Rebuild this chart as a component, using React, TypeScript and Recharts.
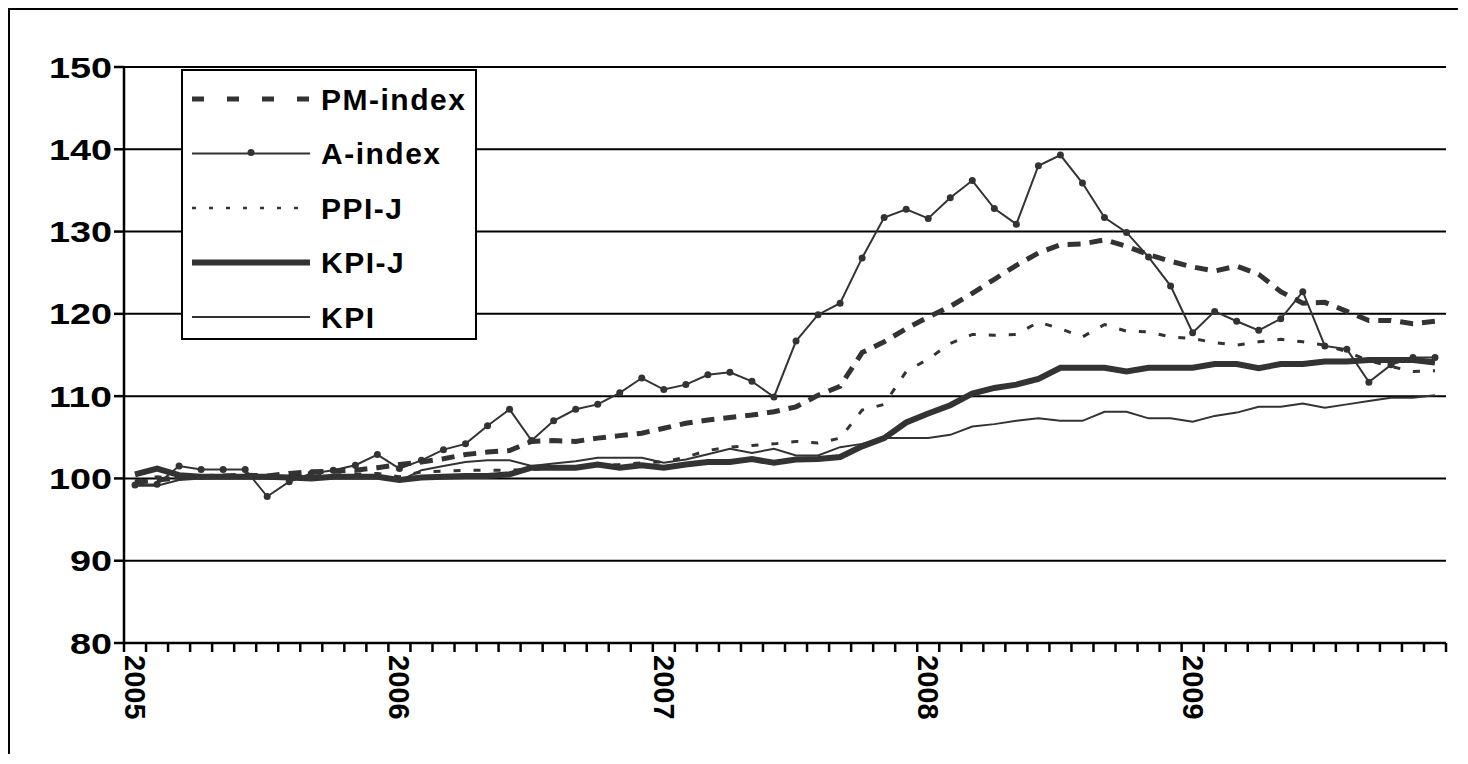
import React from 'react';
import { LineChart, Line, XAxis, YAxis, CartesianGrid } from 'recharts';

const years = ['2005', '2006', '2007', '2008', '2009'];
const months = years.flatMap((y) => Array.from({ length: 12 }, (_, m) => `${y}-${m + 1}`));
const yTicks = [80, 90, 100, 110, 120, 130, 140, 150];

const pmIndex = [
  99.5, 99.8, 100.1, 100.2, 100.3, 100.4, 100.3, 100.6, 100.8, 100.9, 101.0, 101.3,
  101.7, 102.0, 102.4, 102.9, 103.2, 103.4, 104.5, 104.6, 104.5, 104.9, 105.2, 105.5,
  106.1, 106.7, 107.1, 107.4, 107.7, 108.1, 108.7, 110.1, 111.2, 115.3, 116.6, 118.2,
  119.6, 120.9, 122.5, 124.2, 125.9, 127.4, 128.4, 128.5, 129.0, 128.2, 127.2, 126.4,
  125.7, 125.2, 125.8, 124.8, 122.7, 121.3, 121.4, 120.3, 119.2, 119.2, 118.8, 119.1,
];
const aIndex = [
  99.2, 99.3, 101.5, 101.1, 101.1, 101.1, 97.8, 99.6, 100.6, 101.0, 101.6, 102.9,
  101.2, 102.2, 103.5, 104.2, 106.4, 108.4, 104.6, 107.0, 108.4, 109.0, 110.4, 112.2,
  110.8, 111.4, 112.6, 112.9, 111.8, 109.9, 116.7, 119.9, 121.3, 126.8, 131.7, 132.7,
  131.6, 134.1, 136.2, 132.8, 130.9, 138.0, 139.3, 135.9, 131.7, 129.9, 126.9, 123.4,
  117.7, 120.3, 119.1, 118.0, 119.4, 122.7, 116.1, 115.7, 111.7, 113.8, 114.7, 114.7,
];
const ppiJ = [
  99.7, 100.2, 100.0, 100.1, 100.2, 100.2, 100.0, 100.2, 100.3, 100.4, 100.5, 100.6,
  100.2, 100.8, 100.9, 101.0, 101.0, 101.0, 101.1, 101.2, 101.4, 101.6, 101.7, 101.9,
  102.0, 102.6, 103.4, 103.8, 104.0, 104.2, 104.5, 104.3, 104.9, 108.3, 109.0, 113.0,
  114.5, 116.4, 117.5, 117.4, 117.5, 119.0, 118.2, 117.2, 118.7, 117.9, 117.8, 117.2,
  117.0, 116.5, 116.2, 116.6, 116.9, 116.6, 116.2, 115.4, 114.3, 113.6, 113.0, 113.1,
];
const kpiJ = [
  100.5, 101.2, 100.4, 100.2, 100.2, 100.2, 100.2, 100.1, 100.0, 100.2, 100.2, 100.2,
  99.8, 100.1, 100.2, 100.3, 100.3, 100.5, 101.3, 101.3, 101.3, 101.7, 101.3, 101.6,
  101.3, 101.7, 102.0, 102.0, 102.35, 101.9, 102.3, 102.35, 102.6, 103.9, 104.9, 106.8,
  107.9, 108.9, 110.3, 111.0, 111.4, 112.1, 113.45, 113.45, 113.45, 113.0, 113.45, 113.45,
  113.45, 113.9, 113.9, 113.4, 113.9, 113.9, 114.2, 114.2, 114.4, 114.4, 114.4, 114.1,
];
const kpi = [
  99.1, 99.1, 99.8, 100.0, 100.1, 100.1, 100.0, 100.0, 99.9, 100.2, 100.3, 100.3,
  99.7, 101.0, 101.5, 102.0, 102.2, 102.2, 101.5, 101.8, 102.1, 102.5, 102.5, 102.5,
  101.9, 102.3, 102.95, 103.6, 103.1, 103.6, 102.8, 102.8, 103.8, 104.2, 104.9, 104.9,
  104.9, 105.3, 106.3, 106.6, 107.0, 107.3, 107.0, 107.0, 108.1, 108.1, 107.3, 107.3,
  106.9, 107.6, 108.0, 108.7, 108.7, 109.1, 108.6, 109.0, 109.4, 109.8, 109.8, 110.1,
];

const data = months.map((m, i) => ({
  m,
  pm: pmIndex[i],
  a: aIndex[i],
  ppi: ppiJ[i],
  kpij: kpiJ[i],
  kpi: kpi[i],
}));

const FONT = '"Liberation Sans", Arial, sans-serif';
const INK = '#333';
const HALF = 11;

// month ticks sit between categories, year labels run top-to-bottom
const MonthTick = (props: any) => {
  const { x, y, payload, index } = props;
  const [yr, mo] = String(payload.value).split('-');
  return (
    <g>
      <line x1={x - HALF} x2={x - HALF} y1={y} y2={y + 9} stroke="#000" strokeWidth={2.5} />
      {index === months.length - 1 && (
        <line x1={x + HALF} x2={x + HALF} y1={y} y2={y + 9} stroke="#000" strokeWidth={2.5} />
      )}
      {mo === '1' && (
        <text
          x={x}
          y={y + 12}
          transform={`rotate(90 ${x} ${y + 12})`}
          textAnchor="start"
          dominantBaseline="central"
          fontFamily={FONT}
          fontWeight="bold"
          fontSize={29}
          fill="#000"
        >
          {yr}
        </text>
      )}
    </g>
  );
};

const ValueTick = (props: any) => {
  const { x, y, payload } = props;
  const s = String(payload.value);
  return (
    <text
      x={x}
      y={y}
      textAnchor="end"
      dominantBaseline="central"
      fontFamily={FONT}
      fontWeight="bold"
      fontSize={30}
      fill="#000"
      textLength={s.length * 21}
      lengthAdjust="spacingAndGlyphs"
    >
      {s}
    </text>
  );
};

const legendItems = [
  { name: 'PM-index', width: 5, dash: '12 23', dot: false },
  { name: 'A-index', width: 2, dash: undefined, dot: true },
  { name: 'PPI-J', width: 2.5, dash: '4 13', dot: false },
  { name: 'KPI-J', width: 6, dash: undefined, dot: false },
  { name: 'KPI', width: 2, dash: undefined, dot: false },
];

const LegendBox = () => (
  <div
    style={{
      position: 'absolute',
      left: 171,
      top: 59,
      width: 296,
      height: 271,
      boxSizing: 'border-box',
      border: '2px solid #000',
      background: '#fff',
    }}
  >
    <svg width={292} height={267}>
      {legendItems.map((it, i) => {
        const cy = 28 + i * 54.5;
        return (
          <g key={it.name}>
            <line
              x1={9}
              x2={127}
              y1={cy}
              y2={cy}
              stroke={INK}
              strokeWidth={it.width}
              strokeDasharray={it.dash}
            />
            {it.dot && <circle cx={68} cy={cy - 1} r={3.5} fill={INK} />}
            <text
              x={138}
              y={cy}
              dominantBaseline="central"
              fontFamily={FONT}
              fontWeight="bold"
              fontSize={30}
              letterSpacing={1.5}
              fill="#000"
            >
              {it.name}
            </text>
          </g>
        );
      })}
    </svg>
  </div>
);

export default function App() {
  return (
    <div
      style={{
        position: 'relative',
        width: 1450,
        height: 746,
        boxSizing: 'border-box',
        borderLeft: '2px solid #000',
        borderTop: '2px solid #000',
        background: '#fff',
      }}
    >
      <LineChart
        width={1448}
        height={744}
        data={data}
        margin={{ top: 57, right: 12, bottom: 11, left: 54 }}
      >
        <CartesianGrid vertical={false} stroke="#000" strokeWidth={2} />
        <XAxis
          dataKey="m"
          interval={0}
          height={100}
          padding={{ left: HALF, right: HALF }}
          tickLine={false}
          tickSize={0}
          tickMargin={0}
          axisLine={{ stroke: '#000', strokeWidth: 2.5 }}
          tick={<MonthTick />}
        />
        <YAxis
          domain={[80, 150]}
          ticks={yTicks}
          width={60}
          tickSize={10}
          tickMargin={2}
          interval={0}
          axisLine={{ stroke: '#000', strokeWidth: 2.5 }}
          tickLine={{ stroke: '#000', strokeWidth: 2.5 }}
          tick={<ValueTick />}
        />
        <YAxis
          yAxisId="right"
          orientation="right"
          domain={[80, 150]}
          width={0}
          tick={false}
          tickLine={false}
          axisLine={{ stroke: '#999', strokeWidth: 2 }}
        />
        <Line
          dataKey="pm"
          stroke={INK}
          strokeWidth={5}
          strokeDasharray="13 9"
          dot={false}
          isAnimationActive={false}
        />
        <Line
          dataKey="a"
          stroke={INK}
          strokeWidth={2}
          dot={{ r: 3.5, fill: INK, stroke: 'none' }}
          isAnimationActive={false}
        />
        <Line
          dataKey="ppi"
          stroke={INK}
          strokeWidth={3}
          strokeDasharray="7 13"
          dot={false}
          isAnimationActive={false}
        />
        <Line dataKey="kpij" stroke={INK} strokeWidth={6} dot={false} isAnimationActive={false} />
        <Line dataKey="kpi" stroke={INK} strokeWidth={2} dot={false} isAnimationActive={false} />
      </LineChart>
      <LegendBox />
    </div>
  );
}
